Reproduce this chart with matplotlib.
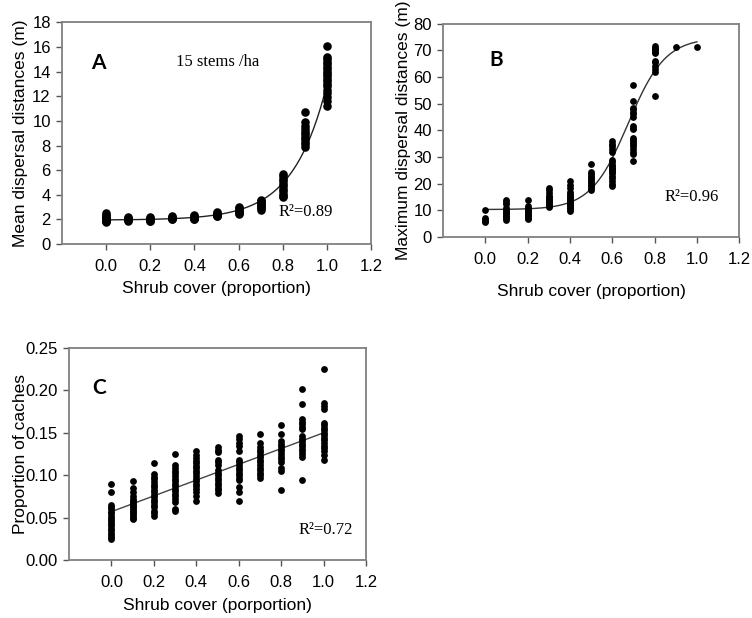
import numpy as np
import matplotlib
matplotlib.use("Agg")
from matplotlib import pyplot as plt

plt.rcParams['font.family'] = ['Liberation Sans', 'DejaVu Sans']

COVER = [0.0, 0.1, 0.2, 0.3, 0.4, 0.5, 0.6, 0.7, 0.8, 0.9, 1.0]

# mean dispersal distance (m), one list per shrub cover level
MEAN_DIST = [
    [2.5, 2.4, 2.3, 2.2, 2.1, 2.0, 1.95, 1.9, 1.85, 1.8],
    [2.2, 2.1, 2.05, 2.0, 1.95, 1.9],
    [2.2, 2.1, 2.0, 1.95, 1.9, 1.85],
    [2.3, 2.2, 2.15, 2.1, 2.05, 2.0],
    [2.4, 2.3, 2.2, 2.15, 2.1, 2.05, 2.0],
    [2.6, 2.5, 2.45, 2.4, 2.35, 2.3, 2.25],
    [3.0, 2.9, 2.8, 2.7, 2.6, 2.5, 2.45],
    [3.6, 3.5, 3.4, 3.3, 3.2, 3.1, 3.0, 2.9, 2.8],
    [5.7, 5.5, 5.3, 5.1, 4.9, 4.7, 4.5, 4.3, 4.1, 3.9, 3.8],
    [10.7, 9.9, 9.6, 9.3, 9.1, 8.9, 8.7, 8.5, 8.3, 8.1, 7.9],
    [16.1, 15.2, 15.0, 14.8, 14.6, 14.4, 14.2, 14.0, 13.8, 13.6, 13.4,
     13.2, 13.0, 12.8, 12.5, 12.3, 11.9, 11.6, 11.2],
]

# maximum dispersal distance (m)
MAX_DIST = [
    [10.3, 7.0, 6.5, 6.0, 5.7],
    [14.0, 13.3, 12.5, 11.0, 10.5, 10.0, 9.5, 9.0, 8.5, 8.0, 7.5, 7.0, 6.5],
    [13.8, 11.5, 10.8, 10.2, 9.8, 9.3, 8.8, 8.3, 7.8, 7.2, 6.8],
    [18.3, 17.5, 16.5, 15.5, 15.0, 14.5, 14.0, 13.5, 13.0, 12.5, 12.0, 11.5, 11.2],
    [21.0, 19.5, 18.2, 17.0, 16.0, 15.5, 15.0, 14.5, 14.0, 13.5, 13.0, 12.5,
     12.0, 11.5, 11.0, 10.5, 9.9],
    [27.5, 24.5, 23.8, 23.0, 22.3, 21.7, 21.0, 20.3, 19.5, 19.0, 18.3, 17.8],
    [36.0, 35.0, 34.0, 33.0, 32.0, 29.0, 28.0, 27.0, 26.5, 26.0, 25.5, 25.0,
     24.5, 24.0, 23.0, 22.0, 21.0, 20.0, 19.3],
    [57.0, 51.0, 48.5, 48.0, 47.0, 46.0, 45.0, 41.5, 41.0, 40.5, 37.0, 36.5,
     35.5, 35.0, 34.0, 33.0, 32.0, 31.0, 28.5],
    [71.5, 71.0, 70.5, 70.0, 69.5, 69.0, 66.0, 65.5, 64.0, 63.0, 62.0, 53.0],
    [71.2],
    [71.3],
]

# proportion of caches
CACHES = [
    [0.090, 0.080, 0.065, 0.062, 0.060, 0.057, 0.055, 0.052, 0.050, 0.047,
     0.045, 0.042, 0.040, 0.037, 0.035, 0.032, 0.030, 0.027, 0.025],
    [0.093, 0.085, 0.080, 0.075, 0.072, 0.070, 0.068, 0.066, 0.064, 0.062,
     0.060, 0.058, 0.056, 0.054, 0.052, 0.050, 0.048],
    [0.114, 0.101, 0.098, 0.095, 0.092, 0.089, 0.086, 0.083, 0.080, 0.077,
     0.074, 0.071, 0.068, 0.065, 0.062, 0.058, 0.055, 0.052],
    [0.125, 0.112, 0.108, 0.105, 0.102, 0.099, 0.096, 0.093, 0.090, 0.087,
     0.084, 0.081, 0.078, 0.075, 0.072, 0.068, 0.060, 0.058],
    [0.129, 0.124, 0.120, 0.117, 0.114, 0.111, 0.108, 0.105, 0.102, 0.099,
     0.096, 0.093, 0.090, 0.087, 0.084, 0.080, 0.076, 0.070],
    [0.133, 0.130, 0.127, 0.118, 0.115, 0.112, 0.106, 0.103, 0.100, 0.097,
     0.094, 0.091, 0.088, 0.085, 0.082, 0.079],
    [0.146, 0.143, 0.138, 0.134, 0.128, 0.118, 0.115, 0.112, 0.109, 0.106,
     0.103, 0.100, 0.097, 0.094, 0.086, 0.080, 0.070],
    [0.149, 0.138, 0.133, 0.130, 0.127, 0.124, 0.121, 0.118, 0.115, 0.112,
     0.109, 0.106, 0.103, 0.100, 0.097],
    [0.159, 0.149, 0.140, 0.137, 0.134, 0.131, 0.128, 0.125, 0.122, 0.119,
     0.116, 0.108, 0.105, 0.083],
    [0.202, 0.184, 0.166, 0.163, 0.160, 0.157, 0.154, 0.146, 0.143, 0.140,
     0.137, 0.134, 0.131, 0.128, 0.125, 0.121, 0.094],
    [0.225, 0.185, 0.182, 0.178, 0.162, 0.159, 0.156, 0.153, 0.150, 0.147,
     0.144, 0.141, 0.138, 0.135, 0.132, 0.128, 0.124, 0.118],
]

# fitted regressions
EXP_FIT = (1.95, 0.0165, 6.5)            # y0 + a*exp(b*x)
SIG_FIT = (10.3, 64.5, 0.675, 0.088)     # y0 + a/(1+exp(-(x-x0)/b))
LIN_FIT = (0.057, 0.093)                 # intercept, slope

R2 = {'A': 0.89, 'B': 0.96, 'C': 0.72}

XTICKS = [0.0, 0.2, 0.4, 0.6, 0.8, 1.0, 1.2]
SPINE = '#808080'


def flatten(groups):
    xs, ys = [], []
    for x, vals in zip(COVER, groups):
        xs += [x] * len(vals)
        ys += vals
    return np.array(xs), np.array(ys)


def style_axes(ax, ylim, yticks, yfmt, xlabel, ylabel, ylab_x, xlab_y):
    ax.set_xlim(-0.2, 1.2)
    ax.set_ylim(*ylim)
    ax.set_xticks(XTICKS)
    ax.set_xticklabels([f"{t:.1f}" for t in XTICKS])
    ax.set_yticks(yticks)
    ax.set_yticklabels([yfmt.format(t) for t in yticks])
    for s in ax.spines.values():
        s.set_color(SPINE)
        s.set_linewidth(1.3)
    ax.tick_params(direction='out', length=4, width=1, color='#555555',
                   labelsize=12, pad=4, top=False, right=False)
    ax.tick_params(axis='x', pad=7)
    ax.set_xlabel(xlabel, fontsize=12.5)
    ax.set_ylabel(ylabel, fontsize=12.5)
    ax.yaxis.set_label_coords(ylab_x, 0.5)
    ax.xaxis.set_label_coords(0.5, xlab_y)


fig = plt.figure(figsize=(7.52, 6.18), dpi=100)
axA = fig.add_axes([0.0824, 0.605, 0.411, 0.359])
axB = fig.add_axes([0.589, 0.6165, 0.394, 0.345])
axC = fig.add_axes([0.0918, 0.0939, 0.395, 0.343])

xfit = np.linspace(0, 1, 200)
letter = dict(fontsize=15, fontweight='bold', family='Lato',
              ha='center', va='center')
serif = dict(fontsize=12, family='Liberation Serif', va='center')

# A: mean dispersal distance
x, y = flatten(MEAN_DIST)
axA.scatter(x, y, s=38, color='black', zorder=3, linewidths=0)
y0, a, b = EXP_FIT
axA.plot(xfit, y0 + a * np.exp(b * xfit), color='#222222', lw=1, zorder=2)
style_axes(axA, (0, 18), range(0, 19, 2), "{:d}", "Shrub cover (proportion)",
           "Mean dispersal distances (m)", -0.11, -0.167)
axA.text(-0.036, 14.7, "A", **letter)
axA.text(0.507, 14.8, "15 stems /ha", ha='center', **serif)
axA.text(0.78, 2.6, f"R\u00b2={R2['A']:.2f}", ha='left', **serif)

# B: maximum dispersal distance
x, y = flatten(MAX_DIST)
axB.scatter(x, y, s=24, color='black', zorder=3, linewidths=0)
y0, a, x0, b = SIG_FIT
axB.plot(xfit, y0 + a / (1 + np.exp(-(xfit - x0) / b)), color='#333333',
         lw=1, zorder=2)
style_axes(axB, (0, 80), range(0, 81, 10), "{:d}", "Shrub cover (proportion)",
           "Maximum dispersal distances (m)", -0.108, -0.221)
axB.text(0.05, 66.5, "B", **letter)
axB.text(0.846, 15, f"R\u00b2={R2['B']:.2f}", ha='left', **serif)

# C: proportion of caches
x, y = flatten(CACHES)
axC.scatter(x, y, s=24, color='black', zorder=3, linewidths=0)
c0, c1 = LIN_FIT
axC.plot(xfit, c0 + c1 * xfit, color='#444444', lw=1, zorder=2)
style_axes(axC, (0, 0.25), np.arange(0, 0.26, 0.05), "{:.2f}",
           "Shrub cover (porportion)", "Proportion of caches", -0.138, -0.179)
axC.text(-0.056, 0.203, "C", **letter)
axC.text(0.883, 0.035, f"R\u00b2={R2['C']:.2f}", ha='left', **serif)

fig.savefig("out.png", dpi=100)
